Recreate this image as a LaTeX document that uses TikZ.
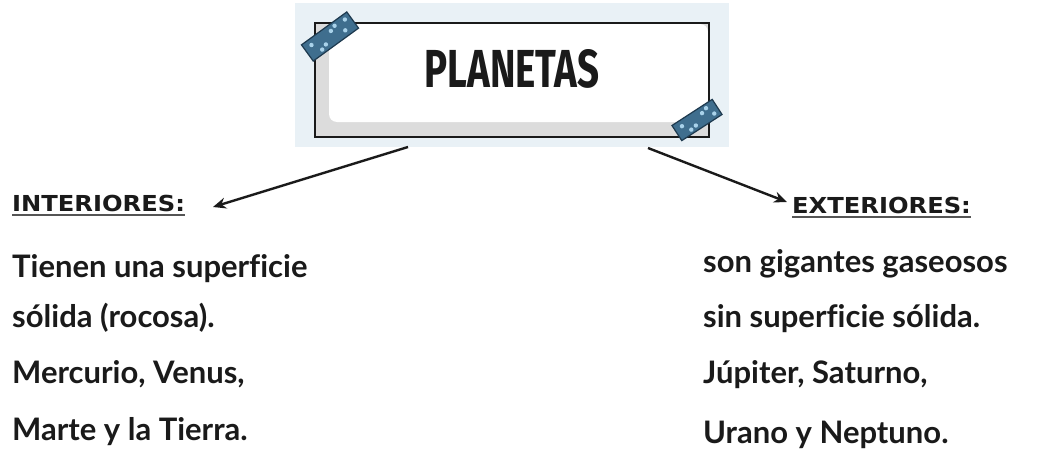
\documentclass[tikz,border=0pt]{standalone}
\usepackage{fontspec}
\usepackage{graphicx}
\usetikzlibrary{arrows.meta}
\newfontfamily\bodyf{Lato}[Ligatures=NoCommon]
\newfontfamily\headf{DejaVu Sans}
\newfontfamily\titf{Fira Sans}
\definecolor{bgblue}{HTML}{E9F1F6}
\definecolor{ink}{HTML}{1A1A1A}
\definecolor{shadegray}{HTML}{DCDCDC}
\definecolor{tapeblue}{HTML}{3F6E8E}
\definecolor{tapeedge}{HTML}{1E3A4F}
\definecolor{tapedot}{HTML}{A9D2EA}
\definecolor{ulgray}{HTML}{555555}
\tikzset{
  arr/.style={line width=2.4pt, ink, -{Stealth[length=13pt,width=11pt]}},
  bodytext/.style={anchor=base west, inner sep=0pt, text=ink, font=\bodyf\bfseries\fontsize{31}{31}\selectfont},
  headtext/.style={anchor=base west, inner sep=0pt, text=ink},
  tape/.style={fill=tapeblue, draw=tapeedge, line width=1.2pt},
  dot/.style={fill=tapedot},
}
\begin{document}
\begin{tikzpicture}[x=1pt,y=-1pt]
\useasboundingbox (0,0) rectangle (1053,452);
\fill[white] (0,0) rectangle (1053,452);
% title card
\fill[bgblue] (295,3) rectangle (729,147);
\fill[shadegray] (315,23) rectangle (709,137);
\fill[white, rounded corners=8pt] (329,24) rectangle (708,122);
\draw[line width=1.6pt, ink] (315,23) rectangle (709,137);
\node[inner sep=0pt, text=ink] (title) at (512,69) {\resizebox{175pt}{38pt}{\titf\bfseries PLANETAS}};
% tapes
\begin{scope}[shift={(330,36.5)}, rotate=36]
  \draw[tape] (-28,-10) rectangle (28,10);
  \foreach \p in {(-20,-4),(-8,4),(4,-4),(16,4),(-14,6),(10,-6),(22,-5)} \fill[dot] \p circle (2.2pt);
\end{scope}
\begin{scope}[shift={(697,120)}, rotate=33]
  \draw[tape] (-24,-9) rectangle (24,9);
  \foreach \p in {(-16,-3),(-4,4),(8,-3),(18,4),(-10,5),(14,-5)} \fill[dot] \p circle (2.2pt);
\end{scope}
% headings
\node[headtext] (intH) at (12,211) {\scalebox{1.1}[1]{\headf\bfseries\fontsize{22}{22}\selectfont INTERIORES:}};
\node[headtext] (extH) at (792,213) {\scalebox{1.1}[1]{\headf\bfseries\fontsize{22}{22}\selectfont EXTERIORES:}};
\draw[line width=1.5pt, ulgray] ([yshift=-4pt]intH.base west) -- ([yshift=-4pt]intH.base east);
\draw[line width=1.5pt, ulgray] ([yshift=-4pt]extH.base west) -- ([yshift=-4pt]extH.base east);
% arrows
\coordinate (s1) at (408,147);
\coordinate (e1) at (213,207);
\coordinate (s2) at (648,148);
\coordinate (e2) at (787,202);
\draw[arr] (s1) -- (e1);
\draw[arr] (s2) -- (e2);
% left column
\node[bodytext] (l1) at (12,277) {Tienen una superficie};
\node[bodytext] (l2) at (12,327) {sólida (rocosa).};
\node[bodytext] (l3) at (12,383) {Mercurio, Venus,};
\node[bodytext] (l4) at (12,440) {Marte y la Tierra.};
% right column
\node[bodytext] (r1) at (703,272) {son gigantes gaseosos};
\node[bodytext] (r2) at (703,327) {sin superficie sólida.};
\node[bodytext] (r3) at (703,383) {Júpiter, Saturno,};
\node[bodytext] (r4) at (703,443) {Urano y Neptuno.};
\end{tikzpicture}
\end{document}
